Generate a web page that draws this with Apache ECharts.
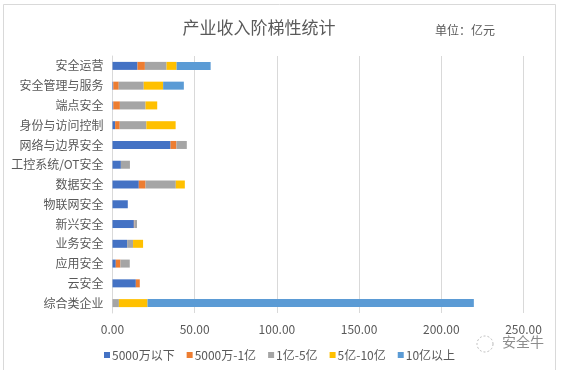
<!DOCTYPE html>
<html><head><meta charset="utf-8">
<script src="https://cdn.jsdelivr.net/npm/echarts@6/dist/echarts.min.js"></script>
<style>html,body{margin:0;padding:0;background:#fff;}#c{width:564px;height:370px;}</style>
</head><body><div id="c"></div>
<script>
var categories = ['安全运营','安全管理与服务','端点安全','身份与访问控制','网络与边界安全','工控系统/OT安全','数据安全','物联网安全','新兴安全','业务安全','应用安全','云安全','综合类企业'];
var seriesNames = ['5000万以下','5000万-1亿','1亿-5亿','5亿-10亿','10亿以上'];
var s1 = [15.2, 0.5, 0.5, 1.6, 35.3, 5.1, 16.0, 9.3, 13.0, 8.9, 2.0, 14.2, 0];
var s2 = [4.5, 3.3, 4.0, 2.8, 3.6, 0, 4.1, 0, 0.3, 0, 2.8, 2.4, 0];
var s3 = [13.2, 15.2, 15.6, 16.2, 6.3, 5.5, 18.4, 0, 1.6, 3.6, 5.7, 0, 3.9];
var s4 = [6.1, 11.8, 7.1, 17.8, 0, 0, 5.5, 0, 0, 6.1, 0, 0, 17.4];
var s5 = [20.7, 12.6, 0, 0, 0, 0, 0, 0, 0, 0, 0, 0, 198.5];
var xTicks = [0, 50, 100, 150, 200, 250];
var colors = ['#4472C4','#ED7D31','#A5A5A5','#FFC000','#5B9BD5'];
var allData = [s1,s2,s3,s4,s5];

var chart = echarts.init(document.getElementById('c'), null, {renderer:'canvas'});
var series = allData.map(function(d,i){
  return {name: seriesNames[i], type:'bar', stack:'total', data:d, barWidth:8,
    itemStyle:{color:colors[i]}};
});
chart.setOption({
  animation:false,
  backgroundColor:'#fff',
  textStyle:{fontFamily:'"Noto Sans CJK SC", sans-serif'},
  title:[{text:'产业收入阶梯性统计', left:254, top:14, textAlign:'center',
    textStyle:{fontSize:17, fontWeight:'normal', color:'#595959', fontFamily:'"Noto Sans CJK SC", sans-serif'}},
    {text:'单位：亿元', left:430, top:19,
    textStyle:{fontSize:12, fontWeight:'normal', color:'#595959', fontFamily:'"Noto Sans CJK SC", sans-serif'}}],
  grid:{left:112.5, right:40.5, top:56, bottom:57, containLabel:false},
  legend:{data:seriesNames, left:99, top:344, itemWidth:6, itemHeight:6, itemGap:12, icon:'rect',
    textStyle:{fontSize:12, color:'#595959', padding:[0,0,0,-3]}},
  xAxis:{type:'value', min:0, max:250, interval:50,
    axisLabel:{formatter:function(v){return v.toFixed(2);}, color:'#595959', fontSize:12, margin:10},
    splitLine:{lineStyle:{color:'#D9D9D9'}}, axisLine:{show:false}, axisTick:{show:false}},
  yAxis:{type:'category', data:categories, inverse:true,
    axisLabel:{color:'#595959', fontSize:12, margin:9},
    axisLine:{lineStyle:{color:'#D9D9D9'}}, axisTick:{show:false}},
  series:series,
  graphic:[
    {type:'rect', shape:{x:3.5, y:4.5, width:552, height:380}, style:{fill:'none', stroke:'#D9D9D9', lineWidth:1}},
    {type:'text', left:502, top:335, style:{text:'安全牛', fontSize:14, fill:'#8c8c8c', fontFamily:'"Noto Sans CJK SC", sans-serif'}},
    {type:'circle', shape:{cx:485, cy:344, r:8}, style:{fill:'none', stroke:'#bbbbbb', lineWidth:1, lineDash:[2,2]}}
  ]
});
</script></body></html>
